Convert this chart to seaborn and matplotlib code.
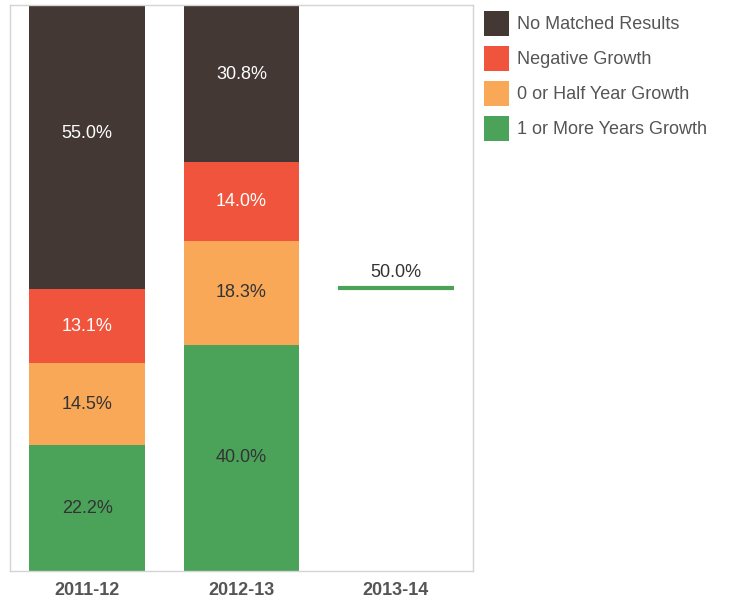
import matplotlib
matplotlib.use('Agg')
import numpy as np
import pandas as pd
import matplotlib.pyplot as plt
import seaborn as sns
from matplotlib.patches import Patch

# data (percent of students)
years = ['2011-12', '2012-13', '2013-14']
bar_years = ['2011-12', '2012-13']
one_plus = [22.2, 40.0]
half_year = [14.5, 18.3]
negative = [13.1, 14.0]
no_match = [55.0, 30.8]
# 2013-14 only has a single marker line
line_year = '2013-14'
line_value = 50.0

series_names = ['1 or More Years Growth', '0 or Half Year Growth', 'Negative Growth', 'No Matched Results']
colors = ['#4ba35a', '#f9a857', '#f0543c', '#433833']
text_colors = ['#333333', '#333333', 'white', 'white']

sns.set_style('white')
plt.rcParams['font.family'] = ['Liberation Sans', 'DejaVu Sans']

fig = plt.figure(figsize=(7.3, 6.02), dpi=100)
ax = fig.add_axes([0.0137, 0.0515, 0.6343, 0.9403])

layers = [one_plus, half_year, negative, no_match]
cum = np.cumsum(np.array(layers), axis=0)

# stack by overdrawing cumulative totals, biggest first
for k in range(len(layers) - 1, -1, -1):
    df = pd.DataFrame({'year': bar_years, 'value': cum[k]})
    sns.barplot(data=df, x='year', y='value', order=years, color=colors[k],
                width=0.75, saturation=1, ax=ax, edgecolor='none')

# segment labels at true segment centres
for k, vals in enumerate(layers):
    for i, v in enumerate(vals):
        bottom = cum[k][i] - v
        ax.text(i, bottom + v / 2, f'{v:.1f}%', ha='center', va='center',
                fontsize=13, color=text_colors[k])

xi = years.index(line_year)
ax.hlines(line_value, xi - 0.375, xi + 0.375, color=colors[0], lw=3)
ax.text(xi, line_value + 1.2, f'{line_value:.1f}%', ha='center', va='bottom',
        fontsize=13, color='#333333')

ax.set_ylim(0, 100)
ax.set_xlim(-0.5, 2.5)
ax.set_ylabel('')
ax.set_xlabel('')
ax.set_yticks([])
for s in ax.spines.values():
    s.set_color('#d4d4d4')
    s.set_linewidth(1)
ax.tick_params(axis='x', which='major', length=0, pad=8, labelsize=13, labelcolor='#555555')
for lbl in ax.get_xticklabels():
    lbl.set_fontweight('bold')
ax.set_xticks([-0.5, 0.5, 1.5, 2.5], minor=True)
ax.tick_params(axis='x', which='minor', length=6, color='#d4d4d4', direction='out')

handles = [Patch(facecolor=colors[k], edgecolor='none', label=series_names[k]) for k in [3, 2, 1, 0]]
fig.legend(handles=handles, loc='upper left', bbox_to_anchor=(0.641, 1.009), frameon=False,
           fontsize=13, handlelength=1.385, handleheight=1.753, labelspacing=0.554,
           handletextpad=0.44, labelcolor='#555555')

fig.savefig('out.png', dpi=100)
